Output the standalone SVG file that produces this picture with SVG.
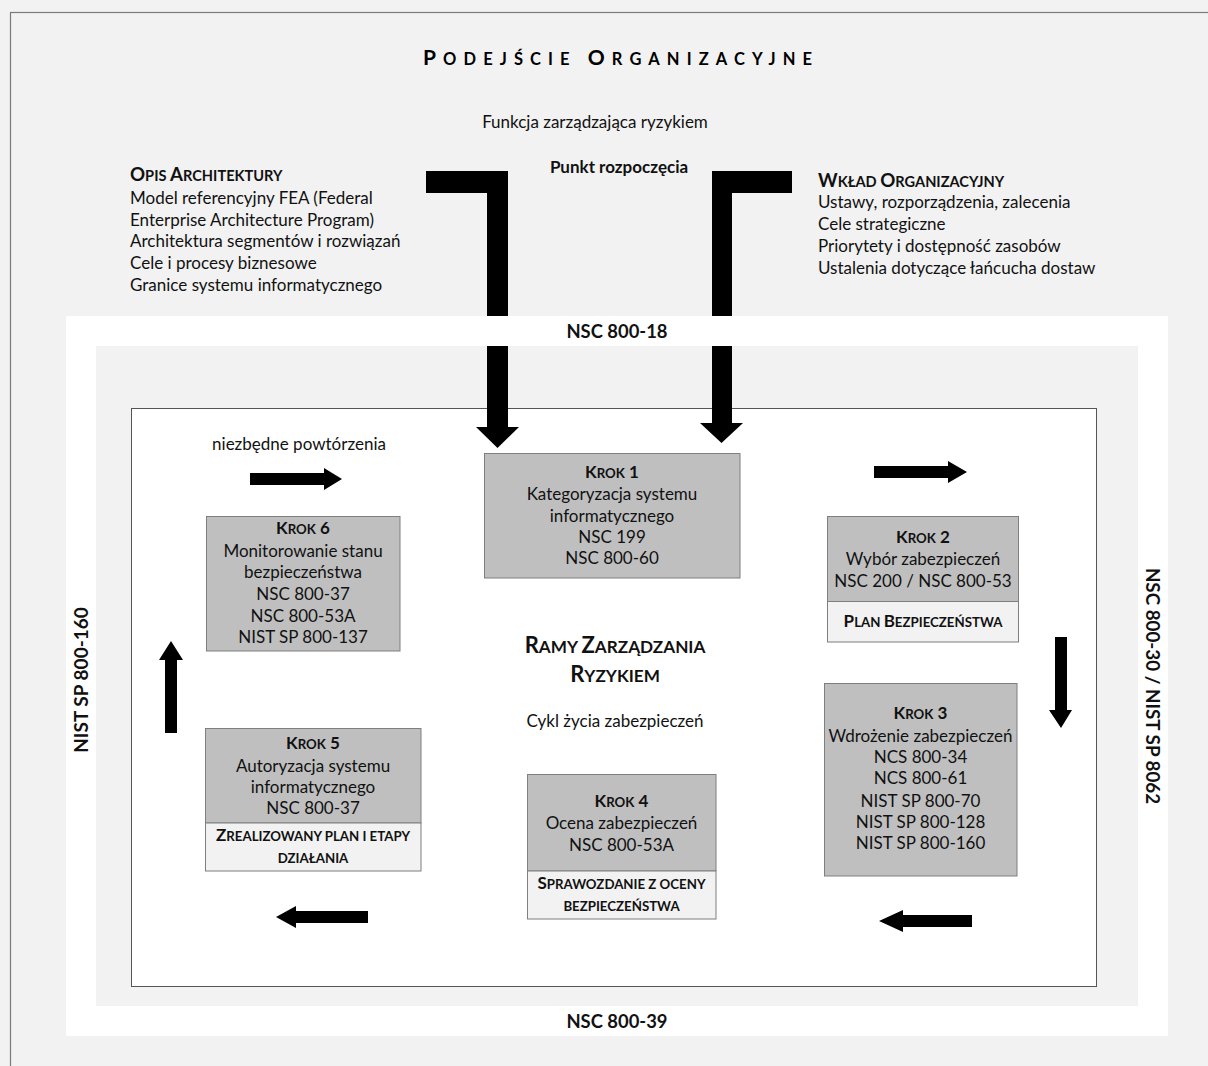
<svg xmlns="http://www.w3.org/2000/svg" width="1208" height="1066" viewBox="0 0 1208 1066">
<style>
.t{font-family:Lato,"Open Sans","Liberation Sans",sans-serif;fill:#111;font-size:17px}
.m{text-anchor:middle}
.b{font-weight:bold}
.sc{font-size:78%}
.h{font-size:18.7px}
.f{font-size:18.4px}
.v{font-size:18.8px}
.box{fill:#bfbfbf;stroke:#7f7f7f;stroke-width:1}
.low{fill:#f2f2f2;stroke:#7f7f7f;stroke-width:1}
.arr{fill:#000}
</style>
<rect x="0" y="0" width="1208" height="1066" fill="#f2f2f2"/>
<rect x="10.5" y="12.5" width="1220" height="1080" fill="#f2f2f2" stroke="#7a7a7a" stroke-width="1.2"/>
<rect x="66" y="316" width="1102" height="720" fill="#ffffff"/>
<rect x="96" y="346" width="1042" height="660" fill="#f2f2f2"/>
<rect x="131.5" y="408.5" width="965" height="578" fill="#ffffff" stroke="#555" stroke-width="1"/>

<g id="header">
<text class="t b" x="423" y="65" style="font-size:21px;fill:#000" textLength="389" lengthAdjust="spacing">P<tspan style="font-size:16.5px">ODEJŚCIE </tspan>O<tspan style="font-size:16.5px">RGANIZACYJNE</tspan></text>
<text class="t m" x="595" y="128">Funkcja zarządzająca ryzykiem</text>
<text class="t m b" x="619" y="173">Punkt rozpoczęcia</text>
</g>

<g id="opis-architektury">
<text class="t b h" x="130" y="181">O<tspan class="sc">PIS </tspan>A<tspan class="sc">RCHITEKTURY</tspan></text>
<text class="t" x="130" y="204">Model referencyjny FEA (Federal</text>
<text class="t" x="130" y="226">Enterprise Architecture Program)</text>
<text class="t" x="130" y="247">Architektura segmentów i rozwiązań</text>
<text class="t" x="130" y="269">Cele i procesy biznesowe</text>
<text class="t" x="130" y="291">Granice systemu informatycznego</text>
</g>

<g id="wklad-organizacyjny">
<text class="t b h" x="818" y="187">W<tspan class="sc">KŁAD </tspan>O<tspan class="sc">RGANIZACYJNY</tspan></text>
<text class="t" x="818" y="208">Ustawy, rozporządzenia, zalecenia</text>
<text class="t" x="818" y="230">Cele strategiczne</text>
<text class="t" x="818" y="252">Priorytety i dostępność zasobów</text>
<text class="t" x="818" y="274">Ustalenia dotyczące łańcucha dostaw</text>
</g>

<g id="frame-labels">
<text class="t m b f" x="617" y="338">NSC 800-18</text>
<text class="t m b f" x="617" y="1028">NSC 800-39</text>
<text class="t m b" style="font-size:19px" transform="translate(88,680) rotate(-90)">NIST SP 800-160</text>
<text class="t m b v" transform="translate(1146,686) rotate(90)">NSC 800-30 / NIST SP 8062</text>
</g>

<g id="center-labels">
<text class="t m b" x="615" y="653" style="font-size:22px">R<tspan class="sc">AMY </tspan>Z<tspan class="sc">ARZĄDZANIA</tspan></text>
<text class="t m b" x="615" y="682" style="font-size:22px">R<tspan class="sc">YZYKIEM</tspan></text>
<text class="t m" x="615" y="727">Cykl życia zabezpieczeń</text>
<text class="t m" x="299" y="450">niezbędne powtórzenia</text>
</g>

<g id="krok1">
<rect class="box" x="484.5" y="453.5" width="255.5" height="124.5"/>
<text class="t m b" x="612" y="478">K<tspan class="sc">ROK</tspan> 1</text>
<text class="t m" x="612" y="500">Kategoryzacja systemu</text>
<text class="t m" x="612" y="522">informatycznego</text>
<text class="t m" x="612" y="543">NSC 199</text>
<text class="t m" x="612" y="564">NSC 800-60</text>
</g>

<g id="krok2">
<rect class="box" x="827.5" y="516.5" width="191" height="85"/>
<rect class="low" x="827.5" y="601.5" width="191" height="40.5"/>
<text class="t m b" x="923" y="543">K<tspan class="sc">ROK</tspan> 2</text>
<text class="t m" x="923" y="565">Wybór zabezpieczeń</text>
<text class="t m" x="923" y="587">NSC 200 / NSC 800-53</text>
<text class="t m b" x="923" y="627">P<tspan class="sc">LAN </tspan>B<tspan class="sc">EZPIECZEŃSTWA</tspan></text>
</g>

<g id="krok3">
<rect class="box" x="824.5" y="683.5" width="192.5" height="192.5"/>
<text class="t m b" x="920.5" y="719">K<tspan class="sc">ROK</tspan> 3</text>
<text class="t m" x="920.5" y="742">Wdrożenie zabezpieczeń</text>
<text class="t m" x="920.5" y="763">NCS 800-34</text>
<text class="t m" x="920.5" y="784">NCS 800-61</text>
<text class="t m" x="920.5" y="807">NIST SP 800-70</text>
<text class="t m" x="920.5" y="828">NIST SP 800-128</text>
<text class="t m" x="920.5" y="849">NIST SP 800-160</text>
</g>

<g id="krok4">
<rect class="box" x="527.5" y="774.5" width="188.5" height="96.5"/>
<rect class="low" x="527.5" y="871" width="188.5" height="48"/>
<text class="t m b" x="621.5" y="807">K<tspan class="sc">ROK</tspan> 4</text>
<text class="t m" x="621.5" y="829">Ocena zabezpieczeń</text>
<text class="t m" x="621.5" y="851">NSC 800-53A</text>
<text class="t m b" x="621.5" y="889">S<tspan class="sc">PRAWOZDANIE Z OCENY</tspan></text>
<text class="t m b" x="621.5" y="911"><tspan class="sc">BEZPIECZEŃSTWA</tspan></text>
</g>

<g id="krok5">
<rect class="box" x="205.5" y="728.5" width="215.5" height="94.5"/>
<rect class="low" x="205.5" y="823" width="215.5" height="48"/>
<text class="t m b" x="313" y="749">K<tspan class="sc">ROK</tspan> 5</text>
<text class="t m" x="313" y="772">Autoryzacja systemu</text>
<text class="t m" x="313" y="793">informatycznego</text>
<text class="t m" x="313" y="814">NSC 800-37</text>
<text class="t m b" x="313" y="841">Z<tspan class="sc">REALIZOWANY PLAN I ETAPY</tspan></text>
<text class="t m b" x="313" y="863"><tspan class="sc">DZIAŁANIA</tspan></text>
</g>

<g id="krok6">
<rect class="box" x="206.5" y="516.5" width="193.5" height="134.5"/>
<text class="t m b" x="303" y="534">K<tspan class="sc">ROK</tspan> 6</text>
<text class="t m" x="303" y="557">Monitorowanie stanu</text>
<text class="t m" x="303" y="578">bezpieczeństwa</text>
<text class="t m" x="303" y="600">NSC 800-37</text>
<text class="t m" x="303" y="622">NSC 800-53A</text>
<text class="t m" x="303" y="643">NIST SP 800-137</text>
</g>

<g id="connectors">
<path class="arr" d="M426,171 H508 V316 H487 V193 H426 Z"/>
<path class="arr" d="M487,346 H508 V427 H519 L497.5,448 L476,427 H487 Z"/>
<path class="arr" d="M712,171 H792 V193 H732 V316 H712 Z"/>
<path class="arr" d="M712,346 H732 V423 H743 L721.5,443 L700,423 H712 Z"/>
<path class="arr" d="M250,473 H324 V468 L342,479 L324,490 V485 H250 Z"/>
<path class="arr" d="M874,466 H948 V461 L967,472 L948,483 V478 H874 Z"/>
<path class="arr" d="M1055,637 H1067 V710 H1072 L1061,728 L1049,710 H1055 Z"/>
<path class="arr" d="M972,915 H903 V910 L879,921 L903,932 V927 H972 Z"/>
<path class="arr" d="M368,911 H296 V906 L276,917 L296,928 V923 H368 Z"/>
<path class="arr" d="M165,733 V660 H159 L171,641 L183,660 H177 V733 Z"/>
</g>
</svg>
